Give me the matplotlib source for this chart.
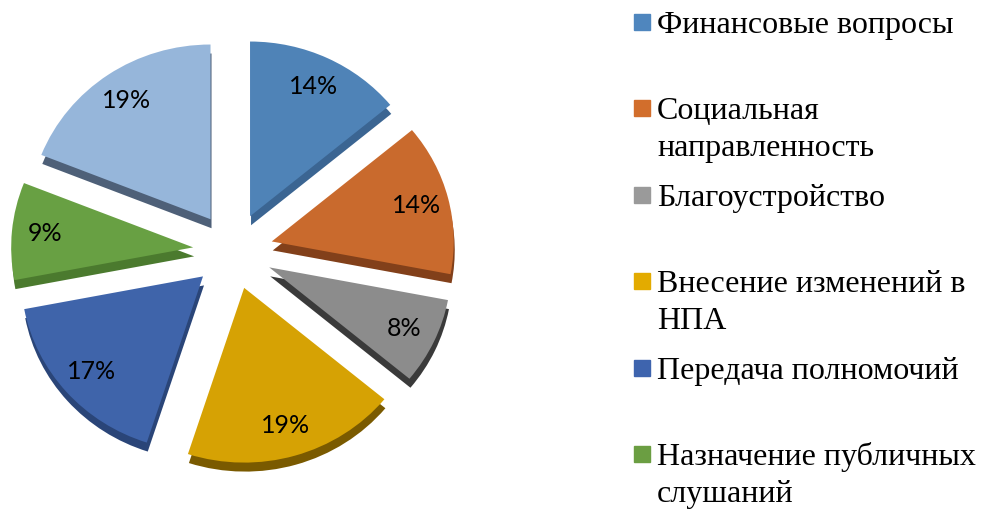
import numpy as np
import matplotlib
matplotlib.use('Agg')
import matplotlib.pyplot as plt
from matplotlib.patches import Rectangle

# data (legend shows only the first six categories)
shares = [14, 14, 8, 19, 17, 9, 19]
names = ['Финансовые вопросы', 'Социальная\nнаправленность', 'Благоустройство',
         'Внесение изменений в\nНПА', 'Передача полномочий',
         'Назначение публичных\nслушаний']
top_colors = ['#4F83B7', '#C96A2D', '#8C8C8C', '#D6A204', '#3F64AA', '#68A043', '#96B6DA']
side_colors = ['#3B6592', '#82401A', '#3A3A3A', '#7A5A00', '#2A4578', '#4B7A2E', '#4E6078']
legend_colors = ['#4F86BE', '#D26E2C', '#9A9A9A', '#E3AB00', '#3E64AE', '#6B9E42']

W, H = 984, 509
sy = 0.96  # slight vertical squash of the tilted pie
fig = plt.figure(figsize=(W / 100, H / 100), dpi=100)
ax = fig.add_axes([0, 0, 1, 1])

cx, cy = 233, (H - 251) / sy
r = 182
expl = [40] * len(shares)   # pie offsets in data units here
depth = 9 / sy

# side (depth) layer
ax.pie(shares, colors=side_colors, startangle=90, counterclock=False,
       explode=expl, radius=r, center=(cx + 1, cy - depth), frame=True,
       wedgeprops=dict(linewidth=0))
# top layer
wedges, texts, autotexts = ax.pie(
    shares, colors=top_colors, startangle=90, counterclock=False,
    explode=expl, radius=r, center=(cx, cy), frame=True,
    autopct='%.0f%%', pctdistance=0.82,
    wedgeprops=dict(linewidth=0),
    textprops=dict(fontsize=18, family=['Lato', 'DejaVu Sans'], color='black'))
ax.set_xlim(0, W)
ax.set_ylim(0, H / sy)
ax.set_aspect('auto')
ax.axis('off')

# legend drawn by hand (entries spaced evenly by first line)
for i, (name, col) in enumerate(zip(names, legend_colors)):
    base = 33 + i * 86.4
    fig.patches.append(Rectangle((634 / W, 1 - (base - 3) / H), 16 / W, 16 / H,
                                 transform=fig.transFigure, color=col))
    for j, line in enumerate(name.split('\n')):
        fig.text(657 / W, 1 - (base + j * 37) / H, line, fontsize=23,
                 family=['Liberation Serif', 'DejaVu Serif'], va='baseline', ha='left')

fig.savefig('out.png', dpi=100)
